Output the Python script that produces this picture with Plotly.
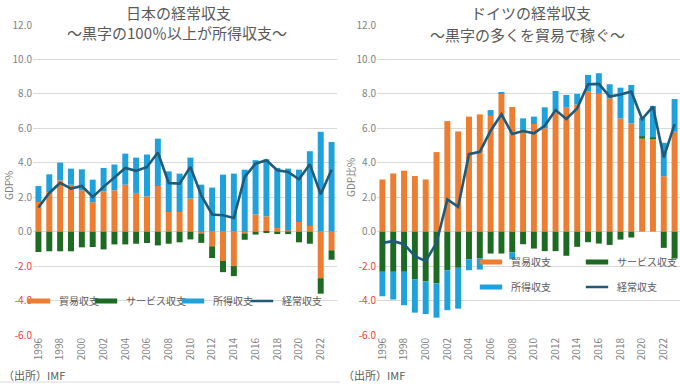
import plotly.graph_objects as go

years = list(range(1996, 2024))
tick_years = list(range(1996, 2023, 2))
y_ticks = [-6, -4, -2, 0, 2, 4, 6, 8, 10, 12]

# Japan (% of GDP)
jp_trade = [1.72, 2.30, 2.98, 2.73, 2.40, 1.71, 2.33, 2.40, 2.73, 2.25, 2.05, 2.65, 1.14, 1.14,
            1.92, -0.10, -0.85, -1.70, -2.00, -0.10, 1.00, 0.89, 0.21, 0.08, 0.56, 0.33, -2.70, -1.08]
jp_serv = [-1.18, -1.14, -1.14, -1.14, -0.91, -0.89, -1.03, -0.74, -0.74, -0.70, -0.66, -0.80, -0.70, -0.62,
           -0.45, -0.55, -0.68, -0.65, -0.58, -0.37, -0.17, -0.08, -0.14, -0.14, -0.62, -0.70, -0.90, -0.55]
jp_income = [0.93, 1.03, 1.03, 0.93, 1.22, 1.31, 1.37, 1.50, 1.80, 2.05, 2.43, 2.75, 2.36, 2.23,
             2.38, 2.73, 2.56, 3.31, 3.37, 3.60, 3.15, 3.31, 3.49, 3.58, 3.04, 4.34, 5.80, 5.21]
jp_ca = [1.40, 2.25, 2.83, 2.50, 2.65, 2.02, 2.60, 3.14, 3.70, 3.53, 3.76, 4.60, 2.83, 2.79,
         3.76, 2.10, 1.00, 0.95, 0.80, 3.18, 3.95, 4.15, 3.57, 3.47, 3.04, 3.91, 2.17, 3.60]

# Germany (% of GDP)
de_trade = [3.03, 3.38, 3.54, 3.23, 3.03, 4.62, 6.42, 5.82, 6.68, 6.81, 6.72, 8.03, 7.24, 5.90,
            6.25, 6.00, 6.93, 7.20, 7.39, 8.13, 8.00, 7.74, 6.58, 6.29, 5.40, 5.42, 3.22, 5.80]
de_serv = [-2.33, -2.33, -2.33, -2.76, -2.88, -3.00, -2.24, -2.10, -1.60, -1.55, -1.27, -1.27, -1.20, -0.73,
           -0.98, -1.13, -1.13, -1.40, -0.88, -0.61, -0.69, -0.77, -0.46, -0.34, 0.15, 0.05, -0.94, -1.56]
de_income = [-1.42, -1.61, -1.94, -1.94, -1.90, -1.99, -2.32, -2.37, -0.64, -0.65, 0.34, 0.08, -0.40, 0.68,
             0.43, 1.22, 1.24, 0.74, 0.61, 0.97, 1.20, 0.82, 1.78, 2.23, 1.07, 1.83, 1.94, 1.90]
de_ca = [-0.65, -0.55, -0.73, -1.42, -1.71, -0.65, 1.87, 1.44, 4.50, 4.64, 5.86, 6.81, 5.67, 5.84,
         5.71, 6.15, 7.06, 6.54, 7.16, 8.56, 8.58, 7.84, 7.97, 8.13, 6.54, 7.26, 4.31, 6.25]

series_names = ["貿易収支", "サービス収支", "所得収支", "経常収支"]

FONT = "Noto Sans CJK JP, Noto Sans, sans-serif"
ORANGE = "#ED7D31"
GREEN = "#1D6B22"
BLUE = "#1FA1DC"
LINE = "#1F5A7A"
GRAY = "#7F7F7F"
DARK = "#595959"
RED = "#F03C3C"

W, H = 680, 384
ML, MR, MT, MB = 33, 0, 25, 49
PW, PH = W - ML - MR, H - MT - MB


def px2x(px):
    return (px - ML) / PW


def px2y(py):
    return (H - MB - py) / PH


fig = go.Figure()

panels = [
    ("x", "y", jp_trade, jp_serv, jp_income, jp_ca,
     ["legend", "legend2", "legend3", "legend4"]),
    ("x2", "y2", de_trade, de_serv, de_income, de_ca,
     ["legend5", "legend6", "legend7", "legend8"]),
]

for xa, ya, tr, sv, inc, ca, legs in panels:
    for vals, col in [(tr, ORANGE), (sv, GREEN), (inc, BLUE)]:
        fig.add_trace(go.Bar(x=years, y=vals, marker=dict(color=col, line=dict(width=0)),
                             showlegend=False, xaxis=xa, yaxis=ya))
    fig.add_trace(go.Scatter(x=years, y=ca, mode="lines", line=dict(color=LINE, width=2.6),
                             showlegend=False, xaxis=xa, yaxis=ya))
    # legend entries (rectangular swatches like the reference)
    for i, (col, lw) in enumerate([(ORANGE, 5), (GREEN, 5), (BLUE, 5), (LINE, 2.5)]):
        fig.add_trace(go.Scatter(x=[None], y=[None], mode="markers",
                                 marker=dict(symbol="line-ew", size=16, color=col,
                                             line=dict(color=col, width=lw)),
                                 name=series_names[i], showlegend=True, legend=legs[i],
                                 xaxis=xa, yaxis=ya))

tick_text = []
for v in y_ticks:
    s = f"{v:.1f}"
    if v < 0:
        s = f"<span style='color:{RED}'>{s}</span>"
    tick_text.append(s)

xcommon = dict(range=[1995.5, 2023.5], tickvals=tick_years, ticktext=[str(y) for y in tick_years],
               tickangle=-90, showgrid=False, zeroline=False, showline=False, ticks="",
               tickfont=dict(size=10, color=GRAY, family=FONT), fixedrange=True)
ycommon = dict(range=[-6, 12], tickvals=y_ticks, ticktext=tick_text, showgrid=True,
               gridcolor="#D9D9D9", gridwidth=1, zeroline=False, showline=False, ticks="",
               tickfont=dict(size=10, color=GRAY, family=FONT), fixedrange=True)

fig.update_layout(
    xaxis=dict(domain=[0, px2x(337)], anchor="y", **xcommon),
    yaxis=dict(domain=[0, 1], anchor="x", **ycommon),
    xaxis2=dict(domain=[px2x(377), 1], anchor="y2", **xcommon),
    yaxis2=dict(domain=[0, 1], anchor="x2", **ycommon),
)


def leg(xpx, ypx):
    return dict(x=px2x(xpx), y=px2y(ypx), xanchor="left", yanchor="middle",
                orientation="h", bgcolor="rgba(0,0,0,0)", borderwidth=0,
                font=dict(size=10, color=DARK, family=FONT))


fig.update_layout(
    legend=leg(19, 301), legend2=leg(86, 301), legend3=leg(173, 301), legend4=leg(242, 301),
    legend5=leg(471, 262), legend6=leg(577, 262), legend7=leg(471, 287), legend8=leg(577, 287),
)

annotations = [
    dict(text="日本の経常収支", x=px2x(178), y=px2y(13), font=dict(size=15, color=DARK)),
    dict(text="〜黒字の100％以上が所得収支〜", x=px2x(177), y=px2y(33), font=dict(size=15, color=DARK)),
    dict(text="ドイツの経常収支", x=px2x(531), y=px2y(13), font=dict(size=15, color=DARK)),
    dict(text="〜黒字の多くを貿易で稼ぐ〜", x=px2x(527), y=px2y(35), font=dict(size=15, color=DARK)),
    dict(text="GDP%", x=px2x(9), y=px2y(186), textangle=-90, font=dict(size=10, color=GRAY)),
    dict(text="GDP比%", x=px2x(350), y=px2y(178), textangle=-90, font=dict(size=10, color=GRAY)),
    dict(text="（出所）IMF", x=px2x(1), y=px2y(375), xanchor="left", font=dict(size=11, color=DARK)),
    dict(text="（出所）IMF", x=px2x(341), y=px2y(375), xanchor="left", font=dict(size=11, color=DARK)),
]
for a in annotations:
    a.setdefault("xanchor", "center")
    a.update(xref="paper", yref="paper", yanchor="middle", showarrow=False)
    a["font"]["family"] = FONT
fig.update_layout(annotations=annotations)

fig.add_shape(type="line", xref="paper", yref="paper", x0=px2x(0), x1=px2x(340),
              y0=px2y(382), y1=px2y(382), line=dict(color="#D9D9D9", width=1))

fig.update_layout(
    width=W, height=H, margin=dict(l=ML, r=MR, t=MT, b=MB, autoexpand=False),
    paper_bgcolor="white", plot_bgcolor="white",
    barmode="relative", bargap=0.45,
    font=dict(family=FONT, color=GRAY),
)

fig.write_html("out.html", config={"displayModeBar": False},
               post_script="document.body.style.margin='0';")
